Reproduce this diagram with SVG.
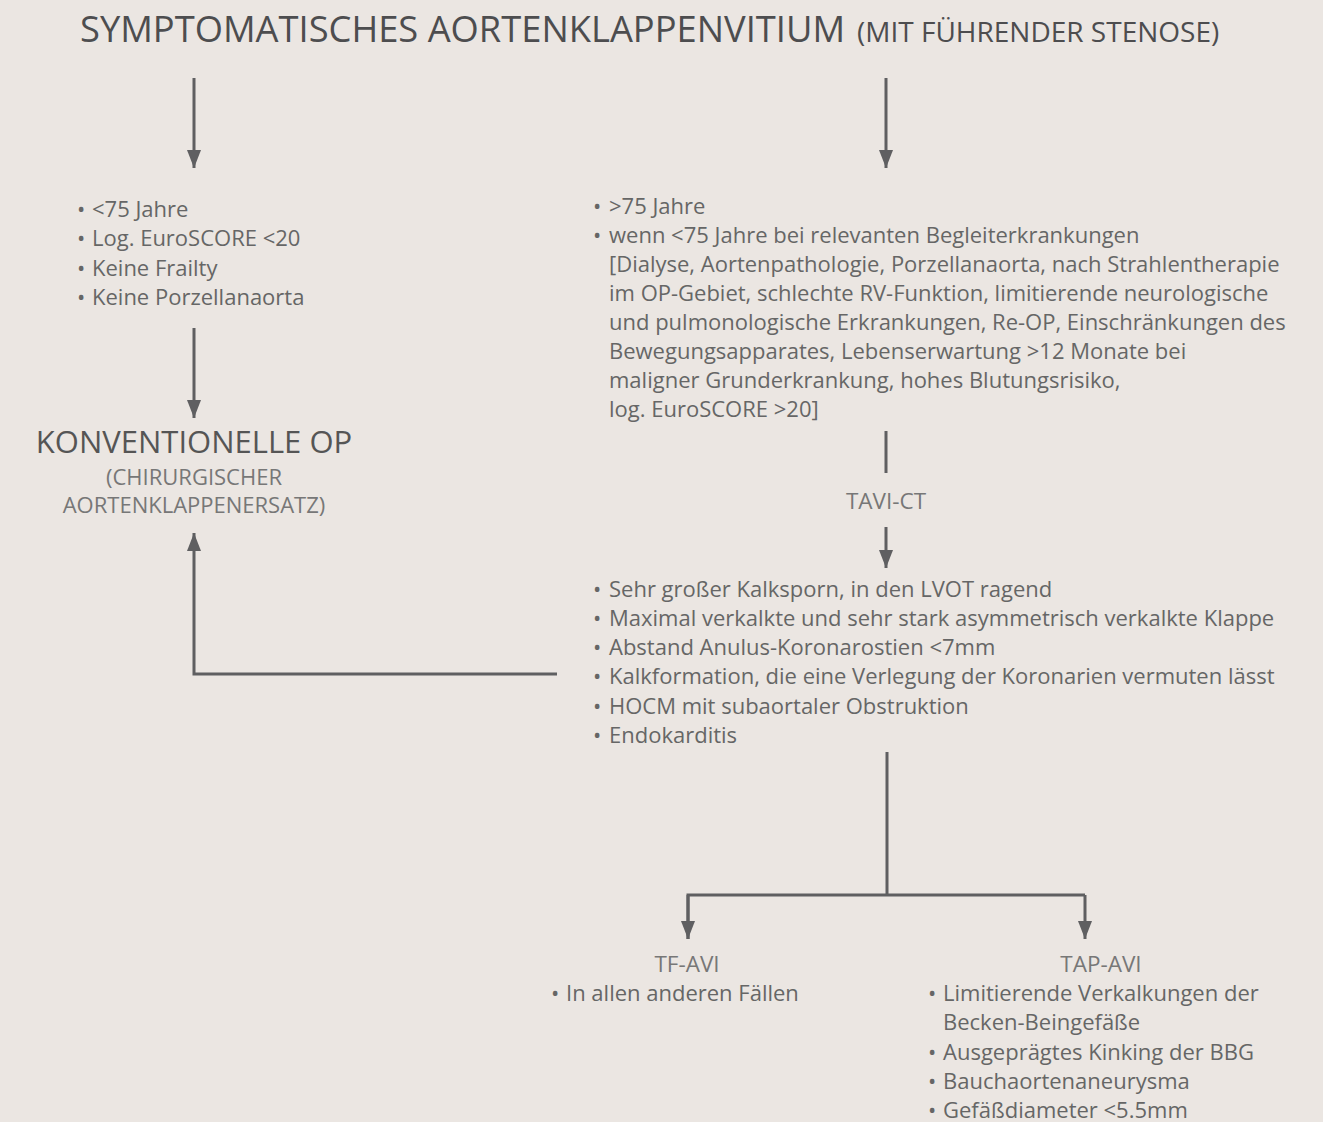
<svg xmlns="http://www.w3.org/2000/svg" width="1323" height="1122" viewBox="0 0 1323 1122">
<defs>
<style>
text{font-family:"Open Sans","Noto Sans","Liberation Sans",sans-serif;fill:#666}
.title{font-size:36.3px;fill:#4d4d4f}
.sub{font-size:28px;fill:#4d4d4f}
.b{font-size:22px}
.h{font-size:31px;fill:#555}
.hs{font-size:22px;fill:#777}
.lbl{font-size:22.5px;fill:#777}
.ln{fill:none;stroke:#5f5f61;stroke-width:3}
</style>
<marker id="ad" markerUnits="userSpaceOnUse" markerWidth="20" markerHeight="16" viewBox="0 0 20 16" refX="18" refY="8" orient="auto">
<path d="M0,1 L18,8 L0,15 Z" fill="#5f5f61"/>
</marker>
</defs>
<rect width="1323" height="1122" fill="#ebe6e2"/>
<g id="title">
<text x="80" y="42"><tspan class="title">SYMPTOMATISCHES AORTENKLAPPENVITIUM</tspan><tspan class="sub" dx="12">(MIT FÜHRENDER STENOSE)</tspan></text>
</g>
<g id="connectors">
<line class="ln" x1="194" y1="78" x2="194" y2="168" marker-end="url(#ad)"/>
<line class="ln" x1="886" y1="78" x2="886" y2="168" marker-end="url(#ad)"/>
<line class="ln" x1="194" y1="328" x2="194" y2="418" marker-end="url(#ad)"/>
<line class="ln" x1="886" y1="431" x2="886" y2="473"/>
<line class="ln" x1="886" y1="527" x2="886" y2="568" marker-end="url(#ad)"/>
<polyline class="ln" points="557,674 194,674 194,533" marker-end="url(#ad)"/>
<line class="ln" x1="887" y1="752" x2="887" y2="895"/>
<polyline class="ln" points="688,939 688,895 1085,895"/>
<line class="ln" x1="688" y1="895" x2="688" y2="939" marker-end="url(#ad)"/>
<line class="ln" x1="1085" y1="895" x2="1085" y2="939" marker-end="url(#ad)"/>
</g>
<g id="left-criteria">
<text class="b" x="77" y="217">• <tspan x="92">&lt;75 Jahre</tspan></text>
<text class="b" x="77" y="246">• <tspan x="92">Log. EuroSCORE &lt;20</tspan></text>
<text class="b" x="77" y="276">• <tspan x="92">Keine Frailty</tspan></text>
<text class="b" x="77" y="305">• <tspan x="92">Keine Porzellanaorta</tspan></text>
</g>
<g id="right-criteria">
<text class="b" x="593" y="214">• <tspan x="609">&gt;75 Jahre</tspan></text>
<text class="b" x="593" y="243">• <tspan x="609">wenn &lt;75 Jahre bei relevanten Begleiterkrankungen</tspan></text>
<text class="b" x="609" y="272">[Dialyse, Aortenpathologie, Porzellanaorta, nach Strahlentherapie</text>
<text class="b" x="609" y="301">im OP-Gebiet, schlechte RV-Funktion, limitierende neurologische</text>
<text class="b" x="609" y="330">und pulmonologische Erkrankungen, Re-OP, Einschränkungen des</text>
<text class="b" x="609" y="359">Bewegungsapparates, Lebenserwartung &gt;12 Monate bei</text>
<text class="b" x="609" y="388">maligner Grunderkrankung, hohes Blutungsrisiko,</text>
<text class="b" x="609" y="417">log. EuroSCORE &gt;20]</text>
</g>
<g id="konventionelle-op">
<text class="h" x="194" y="453" text-anchor="middle">KONVENTIONELLE OP</text>
<text class="hs" x="194" y="484.5" text-anchor="middle">(CHIRURGISCHER</text>
<text class="hs" x="194" y="513" text-anchor="middle">AORTENKLAPPENERSATZ)</text>
</g>
<g id="tavi-ct">
<text class="lbl" x="886" y="509" text-anchor="middle">TAVI-CT</text>
</g>
<g id="ct-criteria">
<text class="b" x="593" y="597">• <tspan x="609">Sehr großer Kalksporn, in den LVOT ragend</tspan></text>
<text class="b" x="593" y="626">• <tspan x="609">Maximal verkalkte und sehr stark asymmetrisch verkalkte Klappe</tspan></text>
<text class="b" x="593" y="655">• <tspan x="609">Abstand Anulus-Koronarostien &lt;7mm</tspan></text>
<text class="b" x="593" y="684">• <tspan x="609">Kalkformation, die eine Verlegung der Koronarien vermuten lässt</tspan></text>
<text class="b" x="593" y="714">• <tspan x="609">HOCM mit subaortaler Obstruktion</tspan></text>
<text class="b" x="593" y="743">• <tspan x="609">Endokarditis</tspan></text>
</g>
<g id="tf-avi">
<text class="lbl" x="687" y="972" text-anchor="middle">TF-AVI</text>
<text class="b" x="551" y="1001">• <tspan x="566">In allen anderen Fällen</tspan></text>
</g>
<g id="tap-avi">
<text class="lbl" x="1101" y="972" text-anchor="middle">TAP-AVI</text>
<text class="b" x="928" y="1001">• <tspan x="943">Limitierende Verkalkungen der</tspan></text>
<text class="b" x="943" y="1030">Becken-Beingefäße</text>
<text class="b" x="928" y="1060">• <tspan x="943">Ausgeprägtes Kinking der BBG</tspan></text>
<text class="b" x="928" y="1089">• <tspan x="943">Bauchaortenaneurysma</tspan></text>
<text class="b" x="928" y="1118">• <tspan x="943">Gefäßdiameter &lt;5.5mm</tspan></text>
</g>
</svg>
